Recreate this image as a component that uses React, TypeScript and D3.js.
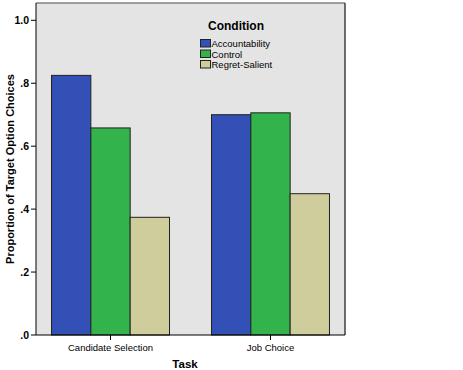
import { scaleBand, scaleLinear } from 'd3'

const TASKS = ['Candidate Selection', 'Job Choice']
const CONDITIONS = ['Accountability', 'Control', 'Regret-Salient']
const ACCOUNTABILITY = [0.825, 0.7]
const CONTROL = [0.658, 0.706]
const REGRET = [0.374, 0.449]
const Y_TICKS = [0, 0.2, 0.4, 0.6, 0.8, 1.0]
const Y_TICK_LABELS = ['.0', '.2', '.4', '.6', '.8', '1.0']

const COLORS = ['#3250b5', '#33b34c', '#cecd9b']
const SERIES = [ACCOUNTABILITY, CONTROL, REGRET]

const W = 463
const H = 370
const L = 36
const R = 345
const T = 3
const B = 335

export default function App() {
  const x = scaleBand<string>().domain(TASKS).range([L, R]).paddingInner(0.2625).paddingOuter(0.097)
  const inner = scaleBand<string>().domain(CONDITIONS).range([0, x.bandwidth()])
  const y = scaleLinear().domain([0, 1.055]).range([B, T])
  const font = 'Arial, "Liberation Sans", sans-serif'

  return (
    <svg width={W} height={H} style={{ position: 'absolute', left: 0, top: 0 }} fontFamily={font}>
      <rect x={0} y={0} width={W} height={H} fill="#fff" />
      <rect x={L} y={T} width={R - L} height={B - T} fill="#e4e4e4" />
      <line x1={L} y1={T} x2={R} y2={T} stroke="#808080" strokeWidth={1.5} />
      <line x1={R} y1={T} x2={R} y2={B} stroke="#404040" strokeWidth={1.5} />

      {TASKS.map((t, i) =>
        CONDITIONS.map((c, j) => (
          <rect
            key={t + c}
            x={(x(t) ?? 0) + (inner(c) ?? 0)}
            y={y(SERIES[j][i])}
            width={inner.bandwidth()}
            height={B - y(SERIES[j][i])}
            fill={COLORS[j]}
            stroke="#222"
            strokeWidth={1}
          />
        ))
      )}

      <line x1={L} y1={T} x2={L} y2={B} stroke="#000" strokeWidth={1} />
      <line x1={L} y1={B} x2={R} y2={B} stroke="#000" strokeWidth={1} />

      {Y_TICKS.map((v, i) => (
        <g key={v}>
          <line x1={L - 5} x2={L} y1={y(v)} y2={y(v)} stroke="#000" />
          <text x={L - 7} y={y(v)} dy="0.35em" textAnchor="end" fontSize={10.5} fontWeight="bold" fill="#000">
            {Y_TICK_LABELS[i]}
          </text>
        </g>
      ))}

      {TASKS.map((t) => {
        const cx = (x(t) ?? 0) + x.bandwidth() / 2
        return (
          <g key={t}>
            <line x1={cx} x2={cx} y1={B} y2={B + 5} stroke="#000" />
            <text x={cx} y={351} textAnchor="middle" fontSize={9.5} fill="#000">
              {t}
            </text>
          </g>
        )
      })}

      <text x={185} y={368} textAnchor="middle" fontSize={11.5} fontWeight="bold" fill="#000">
        Task
      </text>
      <text
        transform="translate(13.5, 169) rotate(-90)"
        textAnchor="middle"
        fontSize={11}
        fontWeight="bold"
        fill="#000"
      >
        Proportion of Target Option Choices
      </text>

      <text x={208} y={30} fontSize={12} fontWeight="bold" fill="#000">
        Condition
      </text>
      {CONDITIONS.map((c, j) => (
        <g key={c}>
          <rect x={200.5} y={39.5 + j * 10.5} width={10} height={7.5} fill={COLORS[j]} stroke="#222" strokeWidth={1} />
          <text x={211.5} y={47 + j * 10.5} fontSize={9.5} fill="#000">
            {c}
          </text>
        </g>
      ))}
    </svg>
  )
}
